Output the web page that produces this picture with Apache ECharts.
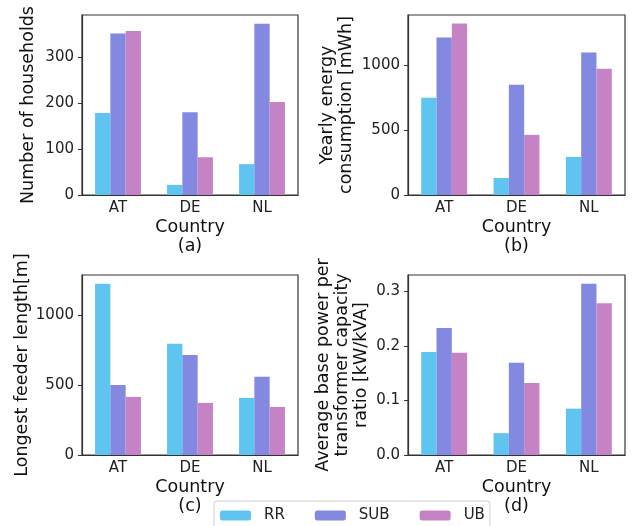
<!DOCTYPE html>
<html>
<head>
<meta charset="utf-8">
<script src="https://cdn.jsdelivr.net/npm/echarts@6/dist/echarts.min.js"></script>
<style>
  html, body { margin: 0; padding: 0; background: #fff; }
  #main { width: 633px; height: 526px; }
</style>
</head>
<body>
<div id="main"></div>
<script>
// categories and series names
const countries = ['AT', 'DE', 'NL'];
const seriesNames = ['RR', 'SUB', 'UB'];
const colors = ['#5fc5f0', '#8389e0', '#c583c6'];

// (a) number of households
const householdsRR = [178, 22, 67];
const householdsSUB = [351, 180, 372];
const householdsUB = [356, 82, 202];

// (b) yearly energy consumption [mWh]
const energyRR = [748, 131, 293];
const energySUB = [1211, 849, 1096];
const energyUB = [1319, 463, 972];

// (c) longest feeder length [m]
const feederRR = [1227, 796, 409];
const feederSUB = [502, 717, 560];
const feederUB = [416, 373, 344];

// (d) average base power per transformer capacity ratio
const ratioRR = [0.189, 0.040, 0.085];
const ratioSUB = [0.233, 0.169, 0.314];
const ratioUB = [0.1875, 0.132, 0.278];

const chart = echarts.init(document.getElementById('main'));

const font = 'DejaVu Sans';
const axisColor = '#333';

const panels = [
  { tag: '(a)', yName: 'Number of households', yGap: 44, max: 391, interval: 100, digits: 0,
    data: [householdsRR, householdsSUB, householdsUB] },
  { tag: '(b)', yName: 'Yearly energy\nconsumption [mWh]', yGap: 52, max: 1385, interval: 500, digits: 0,
    data: [energyRR, energySUB, energyUB] },
  { tag: '(c)', yName: 'Longest feeder length[m]', yGap: 44, max: 1289, interval: 500, digits: 0,
    data: [feederRR, feederSUB, feederUB] },
  { tag: '(d)', yName: 'Average base power per\ntransformer capacity\nratio [kW/kVA]', yGap: 37, max: 0.33, interval: 0.1, digits: 1,
    data: [ratioRR, ratioSUB, ratioUB] }
];

const grids = [
  { left: 82, top: 15, width: 216, height: 180 },
  { left: 408, top: 15, width: 217, height: 180 },
  { left: 82, top: 275, width: 216, height: 180 },
  { left: 408, top: 275, width: 217, height: 180 }
];

const option = {
  animation: false,
  color: colors,
  grid: grids.map(g => Object.assign({ show: true, borderColor: axisColor, borderWidth: 1.2, backgroundColor: '#fff' }, g)),
  legend: {
    data: seriesNames,
    left: 214,
    top: 501,
    padding: [7, 5, 14, 6],
    itemWidth: 31,
    itemHeight: 10,
    itemGap: 30,
    borderColor: '#d0d0d0',
    borderWidth: 1,
    borderRadius: 3,
    backgroundColor: '#fff',
    textStyle: { fontFamily: font, fontSize: 15, color: '#222', padding: [0, 0, 0, 8] }
  },
  xAxis: panels.map((p, i) => ({
    type: 'category',
    gridIndex: i,
    data: countries,
    name: 'Country\n' + p.tag,
    nameLocation: 'middle',
    nameGap: 23,
    nameTextStyle: { fontFamily: font, fontSize: 17.5, color: '#111', lineHeight: 19 },
    axisLine: { lineStyle: { color: axisColor, width: 1.2 } },
    axisTick: { alignWithLabel: true, length: 4, inside: false, lineStyle: { color: axisColor } },
    axisLabel: { fontFamily: font, fontSize: 15, color: '#222', margin: 6 },
    splitLine: { show: false }
  })),
  yAxis: panels.map((p, i) => ({
    type: 'value',
    gridIndex: i,
    min: 0,
    max: p.max,
    interval: p.interval,
    name: p.yName,
    nameLocation: 'middle',
    nameGap: p.yGap,
    nameRotate: 90,
    nameTextStyle: { fontFamily: font, fontSize: 17.5, color: '#111', lineHeight: 19 },
    axisLine: { show: true, lineStyle: { color: axisColor, width: 1.2 } },
    axisTick: { show: true, length: 4, lineStyle: { color: axisColor } },
    axisLabel: {
      fontFamily: font, fontSize: 15, color: '#222', margin: 8, showMaxLabel: false,
      formatter: v => v.toFixed(p.digits)
    },
    splitLine: { show: false }
  })),
  series: []
};

panels.forEach((p, i) => {
  seriesNames.forEach((name, k) => {
    option.series.push({
      name: name,
      type: 'bar',
      xAxisIndex: i,
      yAxisIndex: i,
      data: p.data[k],
      barWidth: 15.3,
      barGap: '0%',
      itemStyle: { color: colors[k] }
    });
  });
});

chart.setOption(option);
</script>
</body>
</html>
